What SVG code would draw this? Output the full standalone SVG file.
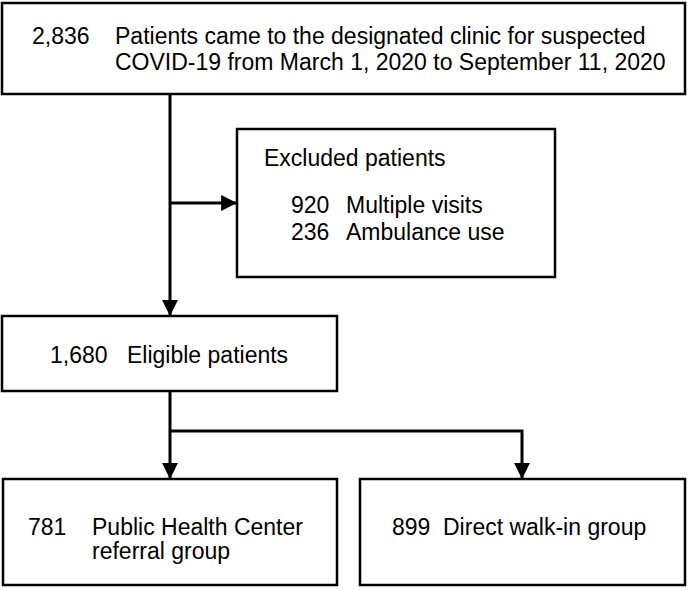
<svg xmlns="http://www.w3.org/2000/svg" width="688" height="590" viewBox="0 0 688 590">
<defs>
<marker id="ah" viewBox="0 0 10 10" refX="10" refY="5" markerWidth="5.3" markerHeight="5.3" markerUnits="strokeWidth" orient="auto">
<path d="M0,0 L10,5 L0,10 Z" fill="#000"/>
</marker>
<style>
.box{fill:#fff;stroke:#000;stroke-width:2.5}
.t{font-family:"Liberation Sans",Arial,sans-serif;font-size:23px;fill:#000}
.ln{fill:none;stroke:#000;stroke-width:3}
</style>
</defs>
<rect width="688" height="590" fill="#fff"/>
<g id="connectors">
<path class="ln" d="M170,94 V316" marker-end="url(#ah)"/>
<path class="ln" d="M170,203 H237" marker-end="url(#ah)"/>
<path class="ln" d="M170,391 V479" marker-end="url(#ah)"/>
<path class="ln" d="M170,431 H522 V479" marker-end="url(#ah)"/>
</g>
<g id="n-total">
<rect class="box" x="2" y="3" width="683" height="91"/>
<text class="t" x="32" y="44">2,836</text>
<text class="t" x="115" y="44">Patients came to the designated clinic for suspected</text>
<text class="t" x="115" y="70">COVID-19 from March 1, 2020 to September 11, 2020</text>
</g>
<g id="n-excluded">
<rect class="box" x="237" y="129" width="318" height="148"/>
<text class="t" x="264" y="166">Excluded patients</text>
<text class="t" x="291" y="213">920</text>
<text class="t" x="346" y="213">Multiple visits</text>
<text class="t" x="291" y="240">236</text>
<text class="t" x="346" y="240">Ambulance use</text>
</g>
<g id="n-eligible">
<rect class="box" x="2" y="316" width="335" height="75"/>
<text class="t" x="50" y="363">1,680</text>
<text class="t" x="127" y="363">Eligible patients</text>
</g>
<g id="n-phc">
<rect class="box" x="3" y="479" width="334" height="106"/>
<text class="t" x="28" y="535">781</text>
<text class="t" x="92" y="535">Public Health Center</text>
<text class="t" x="92" y="559">referral group</text>
</g>
<g id="n-walkin">
<rect class="box" x="360" y="479" width="325" height="106"/>
<text class="t" x="392" y="535">899</text>
<text class="t" x="443" y="535">Direct walk-in group</text>
</g>
</svg>
